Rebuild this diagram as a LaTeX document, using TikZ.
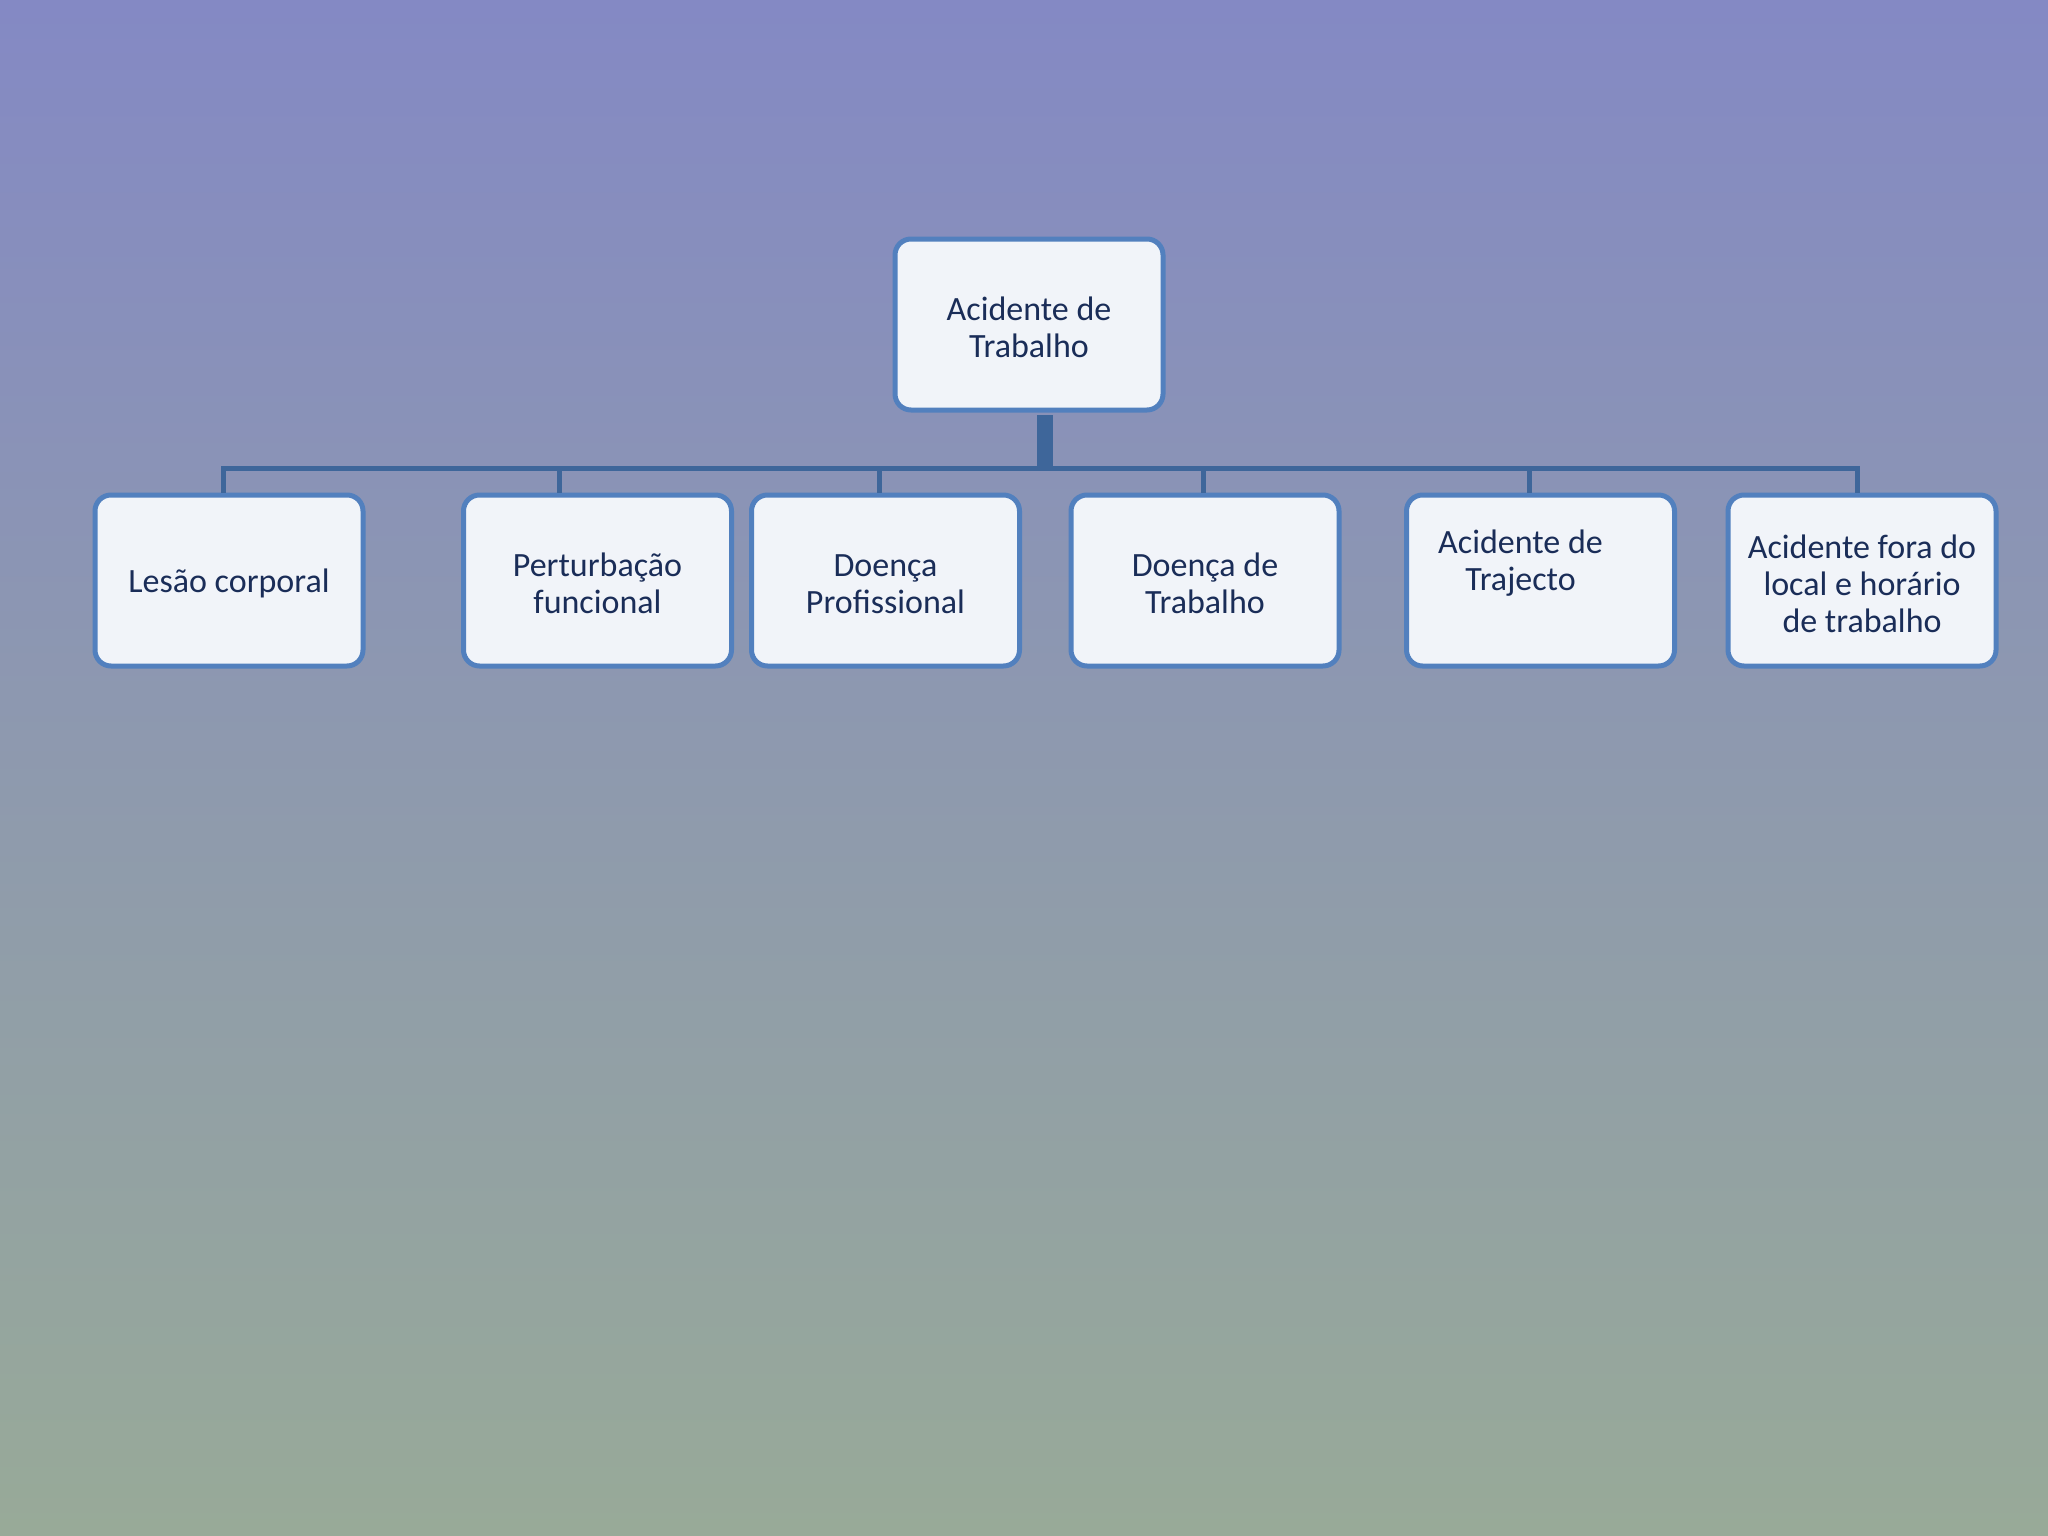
\documentclass[tikz,border=0pt]{standalone}
\usepackage{fontspec}
\setmainfont{Carlito}
\definecolor{bgtop}{RGB}{132,137,196}
\definecolor{bgbot}{RGB}{152,170,152}
\definecolor{boxborder}{RGB}{82,128,190}
\definecolor{boxfill}{RGB}{241,244,249}
\definecolor{txt}{RGB}{26,45,88}
\definecolor{conncol}{RGB}{62,102,154}
\newcommand{\pushdown}{\mbox{}\\[-7pt]}
\tikzset{
  box/.style={draw=boxborder, line width=5pt, fill=boxfill, rounded corners=16pt,
    minimum width=268pt, minimum height=171pt, inner sep=0pt, align=center,
    text=txt, font=\fontsize{34}{37}\selectfont},
  conn/.style={draw=conncol, line width=5pt},
  stem/.style={draw=conncol, line width=16pt}
}
\begin{document}
\begin{tikzpicture}[x=1pt,y=-1pt]
\shade[top color=bgtop, bottom color=bgbot] (0,0) rectangle (2048,1536);
\useasboundingbox (0,0) rectangle (2048,1536);
\node[box] (top) at (1029,324.5) {\pushdown Acidente de\\Trabalho};
\node[box] (c1) at (229,580.5) {\pushdown Lesão corporal};
\node[box] (c2) at (597.5,580.5) {\pushdown Perturbação\\funcional};
\node[box] (c3) at (885.5,580.5) {\pushdown Doença\\Profissional};
\node[box] (c4) at (1205,580.5) {\pushdown Doença de\\Trabalho};
\node[box] (c5) at (1540.5,580.5) {\mbox{}\\[4pt]\begin{tabular}{@{}c@{\hspace{40pt}}}Acidente de\\Trajecto\\ \mbox{}\end{tabular}};
\node[box] (c6) at (1862,580.5) {\pushdown Acidente fora do\\local e horário\\de trabalho};
\coordinate (s) at (1045,415);
\coordinate (sb) at (1045,468);
\coordinate (d1) at (223,468);
\coordinate (d2) at (559,468);
\coordinate (d3) at (879,468);
\coordinate (d4) at (1203,468);
\coordinate (d5) at (1529,468);
\coordinate (d6) at (1857,468);
\draw[stem] (s) -- (sb);
\draw[conn] (d1 |- c1.north) -- (d1) -- (d6) -- (d6 |- c6.north);
\draw[conn] (d2) -- (d2 |- c2.north);
\draw[conn] (d3) -- (d3 |- c3.north);
\draw[conn] (d4) -- (d4 |- c4.north);
\draw[conn] (d5) -- (d5 |- c5.north);
\end{tikzpicture}
\end{document}
